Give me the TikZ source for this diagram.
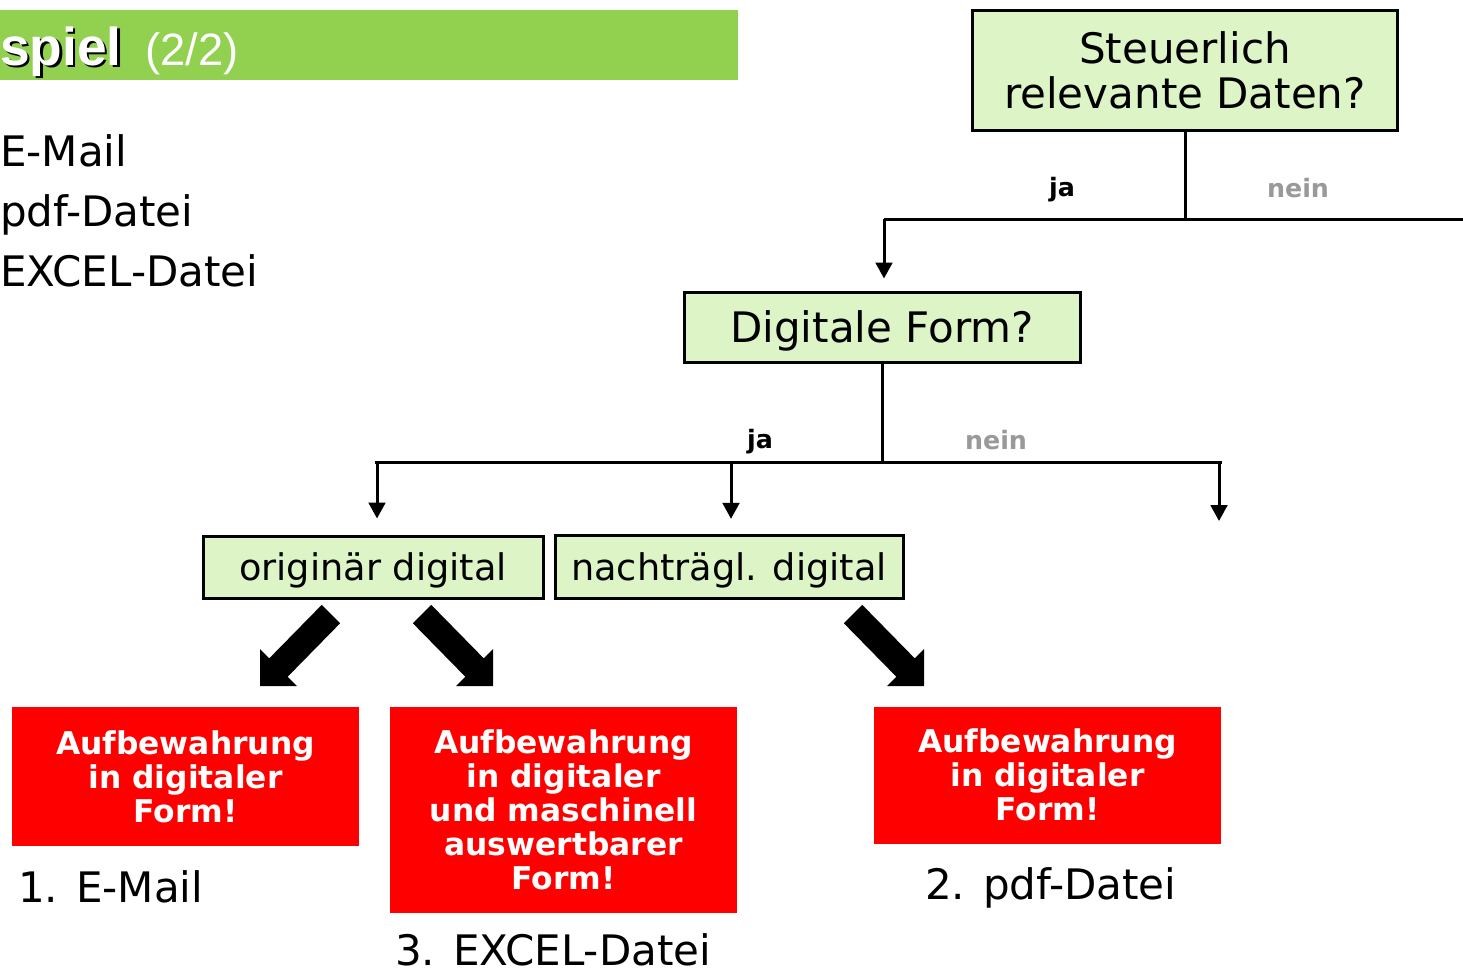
\documentclass[tikz,border=0pt]{standalone}
\usepackage{fontspec}
\setmainfont{DejaVu Sans}
\newfontfamily\hdrfont{Liberation Sans}
\usetikzlibrary{arrows.meta}
\definecolor{hdrgreen}{HTML}{92D050}
\definecolor{boxgreen}{HTML}{DDF4C6}
\definecolor{redbox}{HTML}{FF0000}
\definecolor{neingray}{HTML}{999999}
\newcommand{\shadowtext}[1]{\makebox[0pt][l]{\hspace{1.8pt}\raisebox{-1.8pt}{\textcolor{black}{#1}}}\textcolor{white}{#1}}
\begin{document}
\begin{tikzpicture}[x=0.75pt,y=-0.75pt,
  qbox/.style={draw=black,line width=2.25pt,fill=boxgreen,align=center,inner sep=0pt,text depth=0pt,
    font=\fontsize{31.5pt}{34pt}\selectfont},
  sbox/.style={qbox,font=\fontsize{27.5pt}{30pt}\selectfont},
  rbox/.style={fill=redbox,text=white,align=center,inner sep=0pt,minimum width=260.25pt,
    font=\bfseries\fontsize{23.5pt}{25.5pt}\selectfont},
  conn/.style={line width=2.25pt},
  arr/.style={conn,-{Triangle[length=12pt,width=12.5pt]}},
  jalab/.style={font=\bfseries\fontsize{19pt}{20pt}\selectfont},
  neinlab/.style={jalab,text=neingray},
  bigtxt/.style={font=\fontsize{31.5pt}{34pt}\selectfont,inner sep=0pt},
  blockarrow/.pic={\fill[black] (-61.8,-81.2) -- (-9.2,-27.6) -- (0,-36.8) -- (0,0) -- (-36.8,0) -- (-27.6,-9.2) -- (-80.2,-62.8) -- cycle;}
]
\useasboundingbox (0,0) rectangle (1463,971);
% header
\fill[hdrgreen] (0,10) rectangle (738,80);
\node[anchor=base west,inner sep=0pt,font=\hdrfont\bfseries\fontsize{40pt}{42pt}\selectfont] (hdr) at (0,65) {\shadowtext{spiel}};
\node[anchor=base west,inner sep=0pt,text=white,font=\hdrfont\fontsize{34pt}{36pt}\selectfont] (hdrnum) at (145,65) {(2/2)};
% left list
\node[bigtxt,anchor=base west] (l1) at (0,166) {E-Mail};
\node[bigtxt,anchor=base west] (l2) at (0,226) {pdf-Datei};
\node[bigtxt,anchor=base west] (l3) at (0,286) {EXCEL-Datei};
% boxes
\node[qbox,minimum width=318.75pt,minimum height=90pt] (b1) at (1185,70) {Steuerlich\\relevante Daten?};
\node[qbox,minimum width=297pt,minimum height=52.5pt] (b2) at (882,327) {Digitale Form?};
\node[sbox,minimum width=255pt,minimum height=46.5pt] (b3) at (373,567) {originär digital};
\node[sbox,minimum width=261pt,minimum height=47.25pt] (b4) at (729,566.5) {nachträgl. digital};
% first decision
\coordinate (j1) at (1185,219);
\coordinate (j1l) at (884,219);
\coordinate (j1r) at (1463,219);
\draw[conn] (b1.south) -- (b1.south |- j1);
\draw[conn] (j1l) -- (j1r);
\draw[arr,shorten >=9pt] (j1l) -- (j1l |- b2.north);
\node[jalab] (ja1) at (1062,190) {ja};
\node[neinlab] (nein1) at (1298,188) {nein};
% second decision
\coordinate (j2l) at (375,462);
\coordinate (j2r) at (1222,462);
\coordinate (a1) at (377,462);
\coordinate (a2) at (731,462);
\coordinate (a3) at (1219,462);
\coordinate (a3end) at (1219,521);
\draw[conn] (b2.south) -- (b2.south |- j2l);
\draw[conn] (j2l) -- (j2r);
\draw[arr,shorten >=12pt] (a1) -- (a1 |- b3.north);
\draw[arr,shorten >=11pt] (a2) -- (a2 |- b4.north);
\draw[arr] (a3) -- (a3end);
\node[jalab] (ja2) at (760,442) {ja};
\node[neinlab] (nein2) at (996,440) {nein};
% block arrows
\pic[xscale=-1] at (260,686) {blockarrow};
\pic at (493,686) {blockarrow};
\pic at (924,686) {blockarrow};
% red boxes
\node[rbox,minimum height=104.25pt] (r1) at (185.5,776.5) {Aufbewahrung\\in digitaler\\Form!};
\node[rbox,minimum height=154.5pt] (r2) at (563.5,810) {Aufbewahrung\\in digitaler\\und maschinell\\auswertbarer\\Form!};
\node[rbox,minimum height=102.75pt] (r3) at (1047.5,775) {Aufbewahrung\\in digitaler\\Form!};
% captions
\node[bigtxt,anchor=base west] (c1) at (18,902) {1. E-Mail};
\node[bigtxt,anchor=base west] (c2) at (925,899) {2. pdf-Datei};
\node[bigtxt,anchor=base west] (c3) at (395,965) {3. EXCEL-Datei};
\end{tikzpicture}
\end{document}
